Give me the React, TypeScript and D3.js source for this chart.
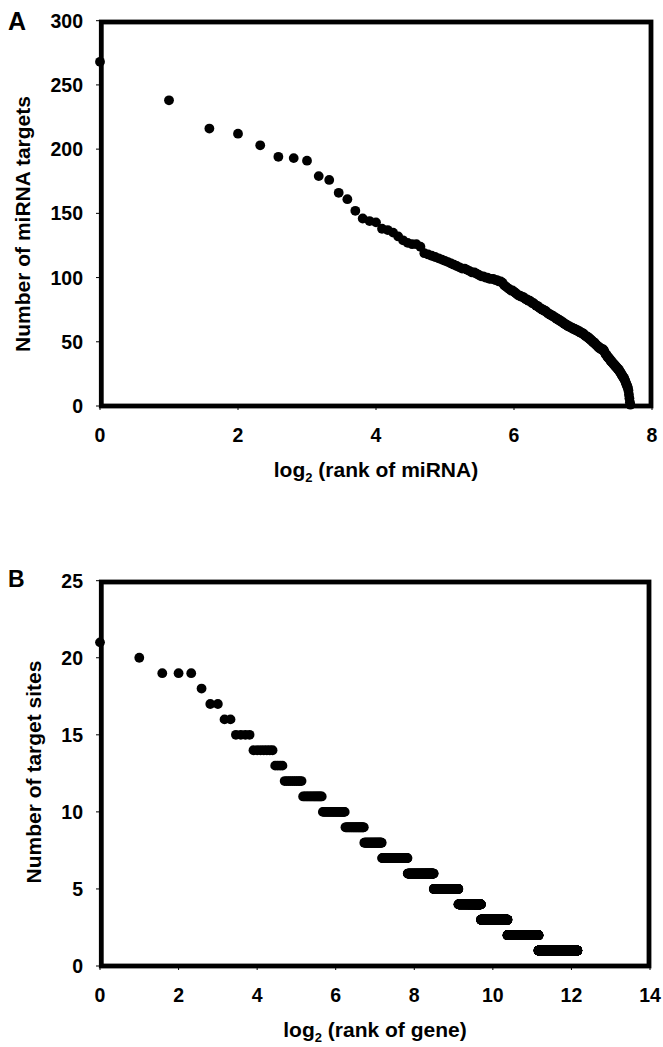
import React from "react";
import * as d3 from "d3";

// Panel A: number of targets for each miRNA, listed by rank (rank = index + 1)
const miRNATargets = [
  268, 238, 216, 212, 203, 194, 193, 191, 179, 176, 166, 161, 152, 146, 144, 143, 138, 137, 135, 132,
  129, 127, 126, 126, 124, 119, 118, 117, 116, 115,
  114, 113, 112, 111, 110,
  109, 108, 107, 107, 106,
  105, 104, 104, 103, 102,
  101, 101, 100, 100, 99, 99, 99,
  98, 98, 97, 97, 96, 94, 93,
  92, 91, 90, 90, 89, 88, 87,
  86, 86, 85, 85, 84, 83, 83,
  82, 82, 81, 80, 80, 79, 78, 78, 77, 76,
  76, 75, 75, 74, 74, 73, 72, 72, 71, 71, 70, 70,
  69, 69, 68, 68, 67, 67, 66, 66, 65, 65, 64, 64, 63, 63,
  62, 62, 62, 61, 61, 61, 60, 60, 60, 59, 59, 59, 58, 58, 58,
  57, 57, 57, 56, 56, 55, 55, 54, 54, 54, 53, 53, 52, 52, 51, 51, 50, 50,
  49, 49, 48, 48, 47, 47, 46, 46, 45, 45, 45, 44, 44, 44, 44,
  43, 42, 41, 40, 40, 39, 38, 38, 37, 37, 36,
  35, 35, 34, 34, 33, 33, 32, 32, 31, 31, 30, 30, 29, 29,
  28, 28, 27, 26, 26, 25, 24, 24, 23, 22, 22, 21, 20,
  19, 18, 17, 16, 15, 14, 12,
  9, 6, 3, 1,
];

// Panel B: number of target sites, with the first and last gene rank having that count
const targetSites = [21, 20, 19, 18, 17, 16, 15, 14, 13, 12, 11, 10, 9, 8, 7, 6, 5, 4, 3, 2, 1];
const firstRank = [1, 2, 3, 6, 7, 9, 11, 15, 22, 26, 36, 51, 76, 106, 145, 228, 361, 558, 831, 1326, 2291];
const lastRank = [1, 2, 5, 6, 8, 10, 14, 21, 25, 35, 50, 75, 105, 144, 227, 360, 557, 830, 1325, 2290, 4545];

const ticksAX = [0, 2, 4, 6, 8];
const ticksAY = [0, 50, 100, 150, 200, 250, 300];
const ticksBX = [0, 2, 4, 6, 8, 10, 12, 14];
const ticksBY = [0, 5, 10, 15, 20, 25];

const FONT = "'Liberation Sans', Arial, sans-serif";

type Pt = { x: number; y: number };

function Panel(props: {
  letter: string;
  letterSize: number;
  letterY: number;
  points: Pt[];
  xDomain: [number, number];
  yDomain: [number, number];
  xRange: [number, number];
  yRange: [number, number];
  xTicks: number[];
  yTicks: number[];
  yTitle: string;
  yTitleX: number;
  yTitleY: number;
  xTitleRest: string;
}) {
  const x = d3.scaleLinear().domain(props.xDomain).range(props.xRange);
  const y = d3.scaleLinear().domain(props.yDomain).range(props.yRange);
  const [x0, x1] = props.xRange;
  const [yb, yt] = props.yRange;
  const xTitleX = (x0 + x1) / 2;
  return (
    <g>
      <text x={8} y={props.letterY} fontFamily={FONT} fontWeight="bold" fontSize={props.letterSize}>
        {props.letter}
      </text>
      {props.points.map((p, i) => (
        <circle key={i} cx={x(p.x)} cy={y(p.y)} r={4.9} fill="#000" />
      ))}
      <rect
        x={x0 + 1.3}
        y={yt + 1.3}
        width={x1 - x0 - 2.3}
        height={yb - yt - 1.3}
        fill="none"
        stroke="#000"
        strokeWidth={4.8}
      />
      {props.yTicks.map((t) => (
        <g key={"y" + t}>
          <line x1={x0 - 4} x2={x0} y1={y(t)} y2={y(t)} stroke="#000" strokeWidth={1} />
          <text
            x={83}
            y={y(t)}
            dy="0.36em"
            textAnchor="end"
            fontFamily={FONT}
            fontWeight="bold"
            fontSize={19.5}
          >
            {t}
          </text>
        </g>
      ))}
      {props.xTicks.map((t) => (
        <g key={"x" + t}>
          <line x1={x(t)} x2={x(t)} y1={yb} y2={yb + 4} stroke="#000" strokeWidth={1} />
          <text
            x={x(t)}
            y={yb + 36}
            textAnchor="middle"
            fontFamily={FONT}
            fontWeight="bold"
            fontSize={19.5}
          >
            {t}
          </text>
        </g>
      ))}
      <text
        transform={`translate(${props.yTitleX},${props.yTitleY}) rotate(-90)`}
        textAnchor="middle"
        fontFamily={FONT}
        fontWeight="bold"
        fontSize={21}
      >
        {props.yTitle}
      </text>
      <text x={xTitleX} y={yb + 71} textAnchor="middle" fontFamily={FONT} fontWeight="bold" fontSize={21}>
        log
        <tspan fontSize={13} dy={5}>
          2
        </tspan>
        <tspan dy={-5}>{" " + props.xTitleRest}</tspan>
      </text>
    </g>
  );
}

export default function App() {
  const pointsA: Pt[] = miRNATargets.map((v, i) => ({ x: Math.log2(i + 1), y: v }));
  const pointsB: Pt[] = [];
  targetSites.forEach((s, i) => {
    for (let r = firstRank[i]; r <= lastRank[i]; r++) pointsB.push({ x: Math.log2(r), y: s });
  });
  return (
    <svg
      width={663}
      height={1047}
      style={{ position: "absolute", left: 0, top: 0, background: "#fff" }}
    >
      <rect width={663} height={1047} fill="#fff" />
      <Panel
        letter="A"
        letterSize={25}
        letterY={30}
        points={pointsA}
        xDomain={[0, 8]}
        yDomain={[0, 300]}
        xRange={[100, 652]}
        yRange={[406, 20.7]}
        xTicks={ticksAX}
        yTicks={ticksAY}
        yTitle="Number of miRNA targets"
        yTitleX={30}
        yTitleY={224}
        xTitleRest="(rank of miRNA)"
      />
      <Panel
        letter="B"
        letterSize={23}
        letterY={587}
        points={pointsB}
        xDomain={[0, 14]}
        yDomain={[0, 25]}
        xRange={[100, 650]}
        yRange={[966, 580.7]}
        xTicks={ticksBX}
        yTicks={ticksBY}
        yTitle="Number of target sites"
        yTitleX={41}
        yTitleY={772}
        xTitleRest="(rank of gene)"
      />
    </svg>
  );
}
